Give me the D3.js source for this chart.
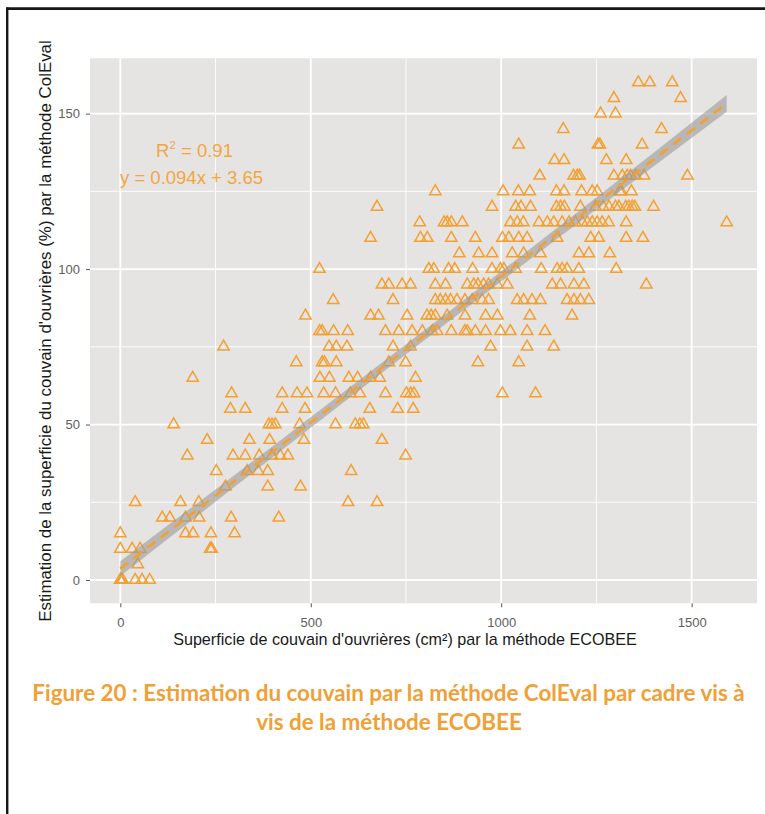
<!DOCTYPE html>
<html><head><meta charset="utf-8">
<script src="https://cdn.jsdelivr.net/npm/d3@7"></script>
<style>html,body{margin:0;padding:0;background:#fff;} svg{display:block;}</style>
</head><body>
<svg id="chart" width="765" height="814"></svg>
<script>
// ColEval estimate levels (%) and the ECOBEE values (cm²) read for each level
const colevalLevels = [0,5,10,15,20,25,30,35,40,45,50,55,60,65,70,75,80,85,90,95,100,105,110,115,120,125,130,135,140,145,150,155,160];
const ecobeeByLevel = [
  [0,0,3,6,39,57,77],
  [46],
  [0,31,52,236,240],
  [0,171,191,238,300],
  [110,130,171,207,291,416],
  [39,158,206,598,674],
  [276,387,473],
  [252,333,362,387,606],
  [176,296,328,365,398,420,440,749],
  [228,339,392,482,687],
  [140,390,398,407,471,565,617,629,638],
  [289,328,425,485,655,728,769],
  [292,425,464,490,534,565,604,629,696,751,762,771,1003,1090],
  [190,524,549,600,623,657,681,775],
  [462,530,536,567,705,749,939,1046],
  [271,548,567,595,716,762,972,1068,1138],
  [523,530,560,597,696,731,766,793,819,832,869,904,911,932,959,998,1024,1068,1115],
  [486,657,678,753,805,816,827,858,905,959,990,1075,1186],
  [559,716,827,840,854,867,884,905,924,950,967,1042,1059,1081,1103,1173,1191,1208,1230],
  [687,705,740,762,827,854,911,928,939,954,967,990,1016,1134,1156,1191,1217,1381],
  [523,810,823,862,878,925,976,998,1007,1038,1105,1147,1160,1173,1204,1302],
  [890,941,976,1029,1059,1103,1204,1230,1285],
  [657,788,806,869,932,1003,1020,1046,1068,1147,1235,1256,1328,1372],
  [786,850,858,869,898,1024,1042,1058,1099,1121,1138,1160,1178,1195,1213,1226,1239,1252,1265,1282,1328,1592],
  [674,976,1038,1052,1077,1145,1156,1166,1208,1248,1268,1283,1300,1309,1327,1335,1344,1351,1400],
  [827,1005,1045,1075,1145,1165,1211,1239,1252,1311,1315,1342],
  [1101,1190,1200,1206,1296,1318,1331,1340,1353,1375,1489],
  [1140,1165,1276,1328],
  [1046,1254,1259,1370],
  [1163,1421],
  [1261,1300],
  [1296,1471],
  [1360,1390,1449]
];
const xMajorTicks = [0,500,1000,1500];
const xMinorTicks = [250,750,1250];
const yMajorTicks = [0,50,100,150];
const yMinorTicks = [25,75,125];
const xLimits = [-79.6, 1671.6];
const yLimits = [-7.5, 167.8];
const fitSlope = 0.094, fitIntercept = 3.65;
// half-width of the grey confidence band (in % units), read at these ECOBEE values
const bandX = [0, 400, 800, 1200, 1592];
const bandHalfWidth = [2.4, 1.8, 1.6, 1.8, 2.7];
const r2Value = "0.91";
const equationText = "y = 0.094x + 3.65";
const xTitle = "Superficie de couvain d'ouvrières (cm²) par la méthode ECOBEE";
const yTitle = "Estimation de la superficie du couvain d'ouvrières (%) par la méthode ColEval";
const captionLines = ["Figure 20 : Estimation du couvain par la méthode ColEval par cadre vis à", "vis de la méthode ECOBEE"];

const orange = "#f4a030";
const svg = d3.select("#chart");
const panel = {left: 90, right: 757, top: 58.3, bottom: 603.3};

// page frame
svg.append("line").attr("x1",7).attr("x2",765).attr("y1",8.6).attr("y2",8.6)
  .attr("stroke","#161616").attr("stroke-width",2.6);
svg.append("line").attr("x1",7.2).attr("x2",7.2).attr("y1",7.3).attr("y2",814)
  .attr("stroke","#161616").attr("stroke-width",2.4);

const x = d3.scaleLinear().domain(xLimits).range([panel.left, panel.right]);
const y = d3.scaleLinear().domain(yLimits).range([panel.bottom, panel.top]);

svg.append("rect").attr("x",panel.left).attr("y",panel.top)
  .attr("width",panel.right-panel.left).attr("height",panel.bottom-panel.top)
  .attr("fill","#e6e4e2");

const grid = svg.append("g");
grid.selectAll(".vmin").data(xMinorTicks).enter().append("line")
  .attr("x1",d=>x(d)).attr("x2",d=>x(d)).attr("y1",panel.top).attr("y2",panel.bottom)
  .attr("stroke","#fff").attr("stroke-width",0.9);
grid.selectAll(".hmin").data(yMinorTicks).enter().append("line")
  .attr("y1",d=>y(d)).attr("y2",d=>y(d)).attr("x1",panel.left).attr("x2",panel.right)
  .attr("stroke","#fff").attr("stroke-width",0.9);
grid.selectAll(".vmaj").data(xMajorTicks).enter().append("line")
  .attr("x1",d=>x(d)).attr("x2",d=>x(d)).attr("y1",panel.top).attr("y2",panel.bottom)
  .attr("stroke","#fff").attr("stroke-width",1.8);
grid.selectAll(".hmaj").data(yMajorTicks).enter().append("line")
  .attr("y1",d=>y(d)).attr("y2",d=>y(d)).attr("x1",panel.left).attr("x2",panel.right)
  .attr("stroke","#fff").attr("stroke-width",1.8);

// points
const points = [];
colevalLevels.forEach((lv,i)=>ecobeeByLevel[i].forEach(e=>points.push({x:e,y:lv})));
const tri = d3.symbol().type(d3.symbolTriangle).size(56);
svg.append("g").selectAll("path").data(points).enter().append("path")
  .attr("d",tri).attr("transform",d=>`translate(${x(d.x)},${y(d.y)})`)
  .attr("fill","none").attr("stroke",orange).attr("stroke-width",1.5);

// regression line with its grey band
const band = bandX.map((v,i)=>{
  const f = fitIntercept+fitSlope*v;
  return {x:v, lo:f-bandHalfWidth[i], hi:f+bandHalfWidth[i], f:f};
});
svg.append("path").datum(band)
  .attr("d",d3.area().curve(d3.curveMonotoneX).x(d=>x(d.x)).y0(d=>y(d.lo)).y1(d=>y(d.hi)))
  .attr("fill","#999").attr("fill-opacity",0.6);
svg.append("path").datum([band[0], band[band.length-1]])
  .attr("d",d3.line().x(d=>x(d.x)).y(d=>y(d.f)))
  .attr("fill","none").attr("stroke",orange).attr("stroke-width",2.6)
  .attr("stroke-dasharray","10 7");

// axes
const font = "'Liberation Sans', Arial, sans-serif";
const xAxis = svg.append("g").attr("transform",`translate(0,${panel.bottom})`)
  .call(d3.axisBottom(x).tickValues(xMajorTicks).tickSize(4).tickPadding(10).tickFormat(d3.format("d")));
const yAxis = svg.append("g").attr("transform",`translate(${panel.left},0)`)
  .call(d3.axisLeft(y).tickValues(yMajorTicks).tickSize(4).tickPadding(6).tickFormat(d3.format("d")));
[xAxis,yAxis].forEach(a=>{
  a.select(".domain").remove();
  a.selectAll(".tick line").attr("stroke","#555").attr("stroke-width",1);
  a.selectAll(".tick text").attr("fill","#5e5e5e").style("font-family",font).style("font-size","13px");
});

function fitWidth(sel, target){
  const w = sel.node().getComputedTextLength();
  const fs = parseFloat(sel.attr("font-size"));
  sel.attr("font-size", fs*target/w);
}

const xt = svg.append("text").attr("x",405).attr("y",645).attr("text-anchor","middle")
  .attr("font-family",font).attr("font-size",15).attr("fill","#1a1a1a").text(xTitle);
fitWidth(xt,464);
const yt = svg.append("text").attr("transform","translate(51,331) rotate(-90)").attr("text-anchor","middle")
  .attr("font-family",font).attr("font-size",15).attr("fill","#1a1a1a").text(yTitle);
fitWidth(yt,582);

// annotation
const ann = svg.append("text").attr("x",194.5).attr("y",157).attr("text-anchor","middle")
  .attr("font-family",font).attr("font-size",18.5).attr("fill","#f2a640");
ann.append("tspan").text("R");
ann.append("tspan").attr("font-size",11.5).attr("dy",-8).text("2");
ann.append("tspan").attr("dy",8).text(" = " + r2Value);
svg.append("text").attr("x",191.5).attr("y",184).attr("text-anchor","middle")
  .attr("font-family",font).attr("font-size",18.5).attr("fill","#f2a640").text(equationText);

// caption
const capFont = "Lato, 'Open Sans', sans-serif";
const c1 = svg.append("text").attr("x",388.5).attr("y",701).attr("text-anchor","middle")
  .attr("font-family",capFont).attr("font-weight","bold").attr("font-size",20)
  .attr("fill","#f0a035").text(captionLines[0]);
fitWidth(c1,713);
svg.append("text").attr("x",389).attr("y",730).attr("text-anchor","middle")
  .attr("font-family",capFont).attr("font-weight","bold").attr("font-size",c1.attr("font-size"))
  .attr("fill","#f0a035").text(captionLines[1]);
</script>
</body></html>
